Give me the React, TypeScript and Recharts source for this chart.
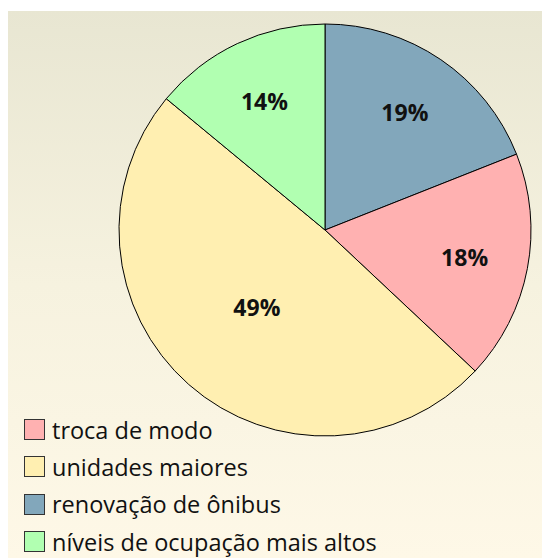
import React from "react";
import { PieChart, Pie, Cell, Legend } from "recharts";

const names = ["renovação de ônibus", "troca de modo", "unidades maiores", "níveis de ocupação mais altos"];
const values = [19, 18, 49, 14];
const colors = ["#82a7bb", "#ffb1b1", "#ffefb1", "#b1ffb1"];
const legendOrder = ["troca de modo", "unidades maiores", "renovação de ônibus", "níveis de ocupação mais altos"];

const data = names.map((name, i) => ({ name, value: values[i], color: colors[i] }));

const RAD = Math.PI / 180;

const renderLabel = (props: any) => {
  const { cx, cy, midAngle, outerRadius, percent, value } = props;
  const r = percent > 0.4 ? outerRadius * 0.5 : outerRadius * 0.69;
  const x = cx + r * Math.cos(-midAngle * RAD);
  const y = cy + r * Math.sin(-midAngle * RAD);
  return (
    <text
      x={x}
      y={y}
      textAnchor="middle"
      dominantBaseline="central"
      fill="#111"
      fontFamily="'Open Sans', sans-serif"
      fontWeight={700}
      fontSize={23}
    >
      {value}%
    </text>
  );
};

const renderLegend = () => {
  return (
    <div style={{ fontFamily: "'Open Sans', sans-serif", fontSize: 23.5, color: "#111" }}>
      {legendOrder.map((n) => {
        const d = data.find((x) => x.name === n)!;
        return (
          <div key={n} style={{ display: "flex", alignItems: "center", height: 37.3 }}>
            <span
              style={{
                display: "inline-block",
                width: 19,
                height: 19,
                background: d.color,
                border: "1px solid #333",
                marginRight: 7,
                flexShrink: 0,
              }}
            />
            <span style={{ lineHeight: "28px", whiteSpace: "nowrap" }}>{n}</span>
          </div>
        );
      })}
    </div>
  );
};

export default function App() {
  return (
    <div style={{ paddingTop: 3 }}>
      <div
        style={{
          width: 542,
          height: 547,
          background: "linear-gradient(to bottom, #e8e6d2 0%, #f6f2df 50%, #fef8e7 100%)",
        }}
      >
        <PieChart width={542} height={547}>
          <Pie
            data={data}
            dataKey="value"
            nameKey="name"
            cx={312}
            cy={214}
            outerRadius={206}
            startAngle={90}
            endAngle={-270}
            stroke="#000"
            strokeWidth={1}
            labelLine={false}
            label={renderLabel}
            isAnimationActive={false}
          >
            {data.map((d) => (
              <Cell key={d.name} fill={d.color} />
            ))}
          </Pie>
          <Legend
            content={renderLegend}
            layout="vertical"
            wrapperStyle={{ left: 16, top: 400, width: 420, height: 147 }}
          />
        </PieChart>
      </div>
    </div>
  );
}
